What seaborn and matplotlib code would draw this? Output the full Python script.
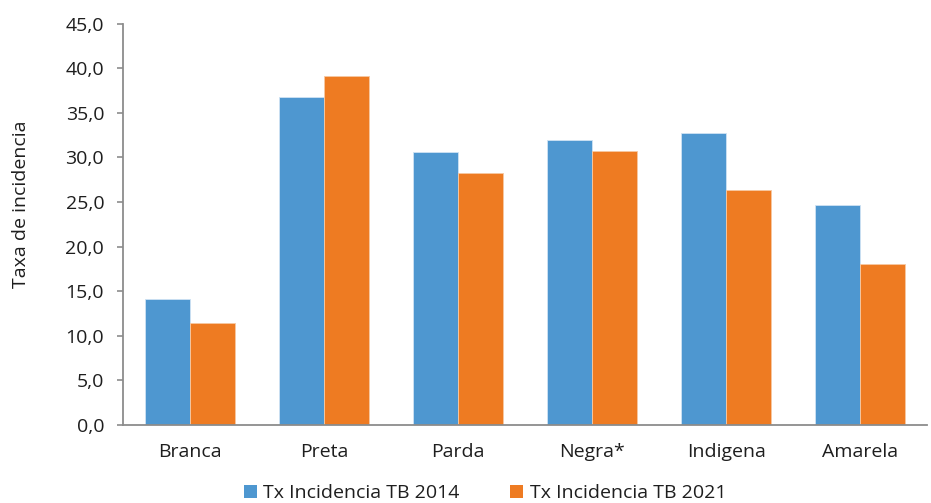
import matplotlib
matplotlib.use("Agg")
import matplotlib.pyplot as plt
import seaborn as sns
import pandas as pd
from matplotlib.ticker import FuncFormatter, MultipleLocator
from matplotlib.patches import Patch

categorias = ["Branca", "Preta", "Parda", "Negra*", "Indigena", "Amarela"]
tx_2014 = [14.1, 36.8, 30.6, 31.9, 32.7, 24.7]
tx_2021 = [11.4, 39.1, 28.3, 30.7, 26.3, 18.0]
series = ["Tx Incidencia TB 2014", "Tx Incidencia TB 2021"]
cores = ["#4E97D0", "#EE7B22"]

df = pd.DataFrame({
    "categoria": categorias * 2,
    "valor": tx_2014 + tx_2021,
    "serie": [series[0]] * len(categorias) + [series[1]] * len(categorias),
})

sns.set_theme(style="white")
plt.rcParams["font.family"] = ["Open Sans", "DejaVu Sans"]

fig = plt.figure(figsize=(9.31, 5.03), dpi=100)
ax = fig.add_axes([0.132, 0.155, 0.864, 0.798])

sns.barplot(data=df, x="categoria", y="valor", hue="serie", palette=cores,
            width=0.67, saturation=1, ax=ax, legend=False,
            edgecolor="#CFE3F3", linewidth=0.6)
for i, bar in enumerate(ax.patches):
    if i >= len(categorias):
        bar.set_edgecolor("#F7C9A3")

ax.set_ylim(0, 45)
ax.set_xlim(-0.5, len(categorias) - 0.5)
ax.yaxis.set_major_locator(MultipleLocator(5))
ax.yaxis.set_major_formatter(FuncFormatter(lambda v, _: f"{v:.1f}".replace(".", ",")))

for side in ["top", "right"]:
    ax.spines[side].set_visible(False)
for side in ["left", "bottom"]:
    ax.spines[side].set_color("#8C8C8C")
    ax.spines[side].set_linewidth(1.3)

ax.tick_params(axis="y", which="major", left=True, length=4.5, width=1.2,
               color="#8C8C8C", labelsize=14, labelcolor="#1E1E1E", pad=9)
ax.tick_params(axis="x", bottom=False, labelsize=14, labelcolor="#1E1E1E", pad=7)

ax.set_xlabel("")
ax.set_ylabel("Taxa de incidencia", fontsize=14, color="#1E1E1E")
ax.yaxis.set_label_coords(-0.115, 0.55)

handles = [Patch(facecolor=c, edgecolor="none") for c in cores]
fig.legend(handles, series, loc="lower center", bbox_to_anchor=(0.521, -0.033),
           ncol=2, frameon=False, fontsize=14, handlelength=0.65, handleheight=0.65,
           handletextpad=0.35, columnspacing=2.6, labelcolor="#1E1E1E")

fig.savefig("out.png", dpi=100)
